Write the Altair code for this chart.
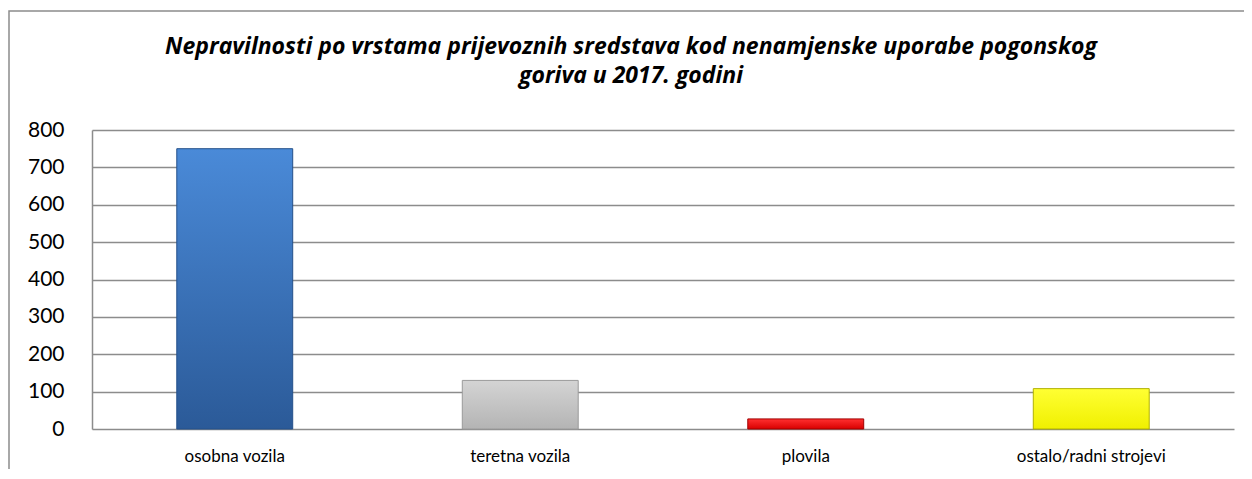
import altair as alt
import pandas as pd

categories = ["osobna vozila", "teretna vozila", "plovila", "ostalo/radni strojevi"]
values = [750, 130, 27, 108]
top_colors = ["#4a8ad8", "#d4d4d4", "#ff3030", "#ffff33"]
bottom_colors = ["#2b5a98", "#b4b4b4", "#d80000", "#f0f000"]
edge_colors = ["#24508a", "#9a9a9a", "#a00000", "#b0b000"]
title_lines = ["Nepravilnosti po vrstama prijevoznih sredstava kod nenamjenske uporabe pogonskog",
               "goriva u 2017. godini"]
y_ticks = [0, 100, 200, 300, 400, 500, 600, 700, 800]

df = pd.DataFrame({"cat": categories, "val": values})
FONT = "Lato"
W, H = 1142, 299

x_enc = alt.X("cat:N", sort=categories,
              scale=alt.Scale(paddingInner=0.594, paddingOuter=0.297),
              axis=alt.Axis(title=None, labelAngle=0, domain=False, ticks=False,
                            labelFontSize=17, labelColor="#000", labelFont=FONT,
                            labelPadding=19))
y_enc = alt.Y("val:Q", scale=alt.Scale(domain=[0, 800], nice=False),
              axis=alt.Axis(title=None, values=y_ticks, domain=True, domainColor="#8c8c8c",
                            domainWidth=1.5, ticks=False,
                            labelFontSize=21, labelColor="#000", labelFont=FONT,
                            labelPadding=28, gridColor="#8c8c8c", gridWidth=1.4))

base = alt.Chart(df).transform_filter(alt.datum.cat == categories[0])

frame = base.mark_rect(fill=None, stroke="#8c8c8c", strokeWidth=1.5, clip=False).encode(
    x=alt.value(-83), x2=alt.value(W + 100), y=alt.value(-119), y2=alt.value(H + 100)
)

title = base.mark_text(font="Open Sans", fontSize=23, fontStyle="italic", fontWeight="bold",
                       color="#000", align="center", baseline="alphabetic",
                       lineHeight=29).encode(
    x=alt.value(539), y=alt.value(-76), text=alt.value(title_lines)
)

layers = [frame]
for i, c in enumerate(categories):
    grad = alt.Gradient(gradient="linear", x1=0, x2=0, y1=0, y2=1,
                        stops=[alt.GradientStop(color=top_colors[i], offset=0),
                               alt.GradientStop(color=bottom_colors[i], offset=1)])
    layers.append(
        alt.Chart(df).transform_filter(alt.datum.cat == c)
        .mark_bar(fill=grad, stroke=edge_colors[i], strokeWidth=1)
        .encode(x=x_enc, y=y_enc)
    )
layers.append(title)

chart = alt.layer(*layers).properties(
    width=W, height=H,
    autosize=alt.AutoSizeParams(type="none"),
    padding={"left": 84, "top": 122, "right": 10, "bottom": 40},
).configure_view(stroke=None)

chart.save("out.html", embed_options={"renderer": "svg", "actions": False})
